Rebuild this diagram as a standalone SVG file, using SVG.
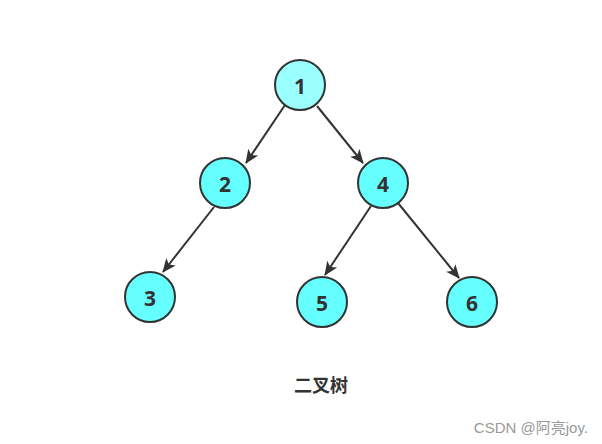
<svg xmlns="http://www.w3.org/2000/svg" width="602" height="444" viewBox="0 0 602 444">
<style>
.n{stroke:#333;stroke-width:2;fill:#66FFFF}
.t{font-family:"Open Sans","DejaVu Sans",sans-serif;font-weight:bold;font-size:21px;fill:#333;text-anchor:middle;dominant-baseline:central}
.e{stroke:#333;stroke-width:2;fill:none;marker-end:url(#a)}
</style>
<defs>
<marker id="a" markerWidth="14" markerHeight="14" refX="13" refY="7" orient="auto" markerUnits="userSpaceOnUse" viewBox="0 0 14 14">
<path d="M0,1 L14,7 L0,13 L3.5,7 Z" fill="#333"/>
</marker>
</defs>
<rect width="602" height="444" fill="#fff"/>
<g id="edges">
<line class="e" x1="285" y1="105" x2="246" y2="163"/>
<line class="e" x1="317" y1="106" x2="363" y2="163"/>
<line class="e" x1="214" y1="207" x2="163" y2="272"/>
<line class="e" x1="371" y1="206" x2="325" y2="275"/>
<line class="e" x1="398" y1="203" x2="459" y2="278"/>
</g>
<g id="n1"><circle class="n" cx="300" cy="85" r="25" style="fill:#99FFFF"/><text class="t" x="300" y="86">1</text></g>
<g id="n2"><circle class="n" cx="225" cy="183" r="25"/><text class="t" x="225" y="184">2</text></g>
<g id="n4"><circle class="n" cx="383" cy="183" r="25"/><text class="t" x="383" y="184">4</text></g>
<g id="n3"><circle class="n" cx="150" cy="297" r="25"/><text class="t" x="150" y="298">3</text></g>
<g id="n5"><circle class="n" cx="322" cy="302" r="25"/><text class="t" x="322" y="303">5</text></g>
<g id="n6"><circle class="n" cx="472" cy="302" r="25"/><text class="t" x="472" y="303">6</text></g>
<text x="321" y="384" font-family="'Noto Sans CJK SC',sans-serif" font-weight="bold" font-size="18" fill="#333" text-anchor="middle" dominant-baseline="central">二叉树</text>
<text x="588" y="427" font-family="'Liberation Sans','Noto Sans CJK SC',sans-serif" font-size="15" fill="#999" text-anchor="end" dominant-baseline="central">CSDN @阿亮joy.</text>
</svg>
